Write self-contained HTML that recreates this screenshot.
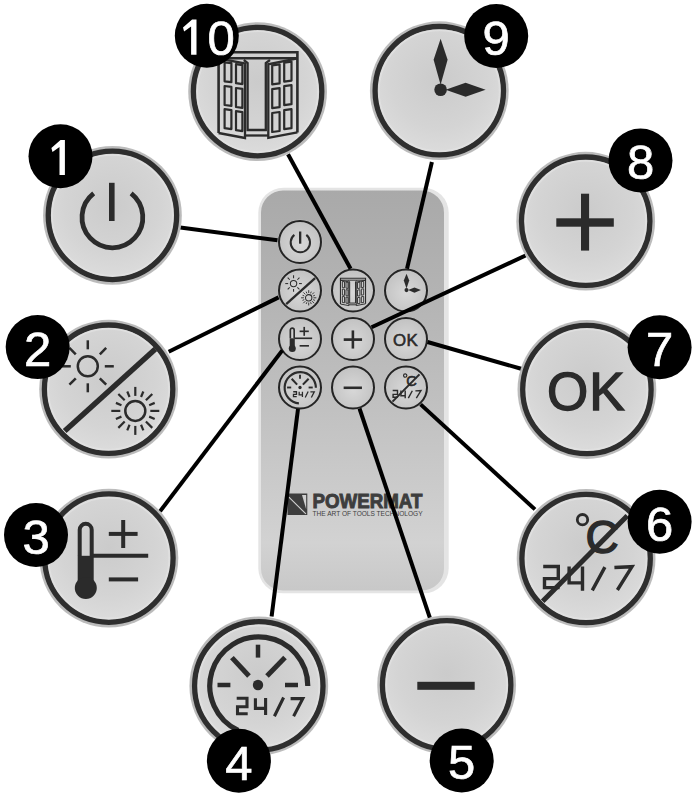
<!DOCTYPE html><html><head><meta charset="utf-8"><style>html,body{margin:0;padding:0;background:#fff;}svg{display:block;font-family:"Liberation Sans",sans-serif;}</style></head><body><svg width="695" height="800" viewBox="0 0 695 800"><defs>
<radialGradient id="halo"><stop offset="0.9" stop-color="#b2b2b2"/><stop offset="1" stop-color="#bdbdbd"/></radialGradient>
<radialGradient id="face" cx="0.5" cy="0.42" r="0.62"><stop offset="0" stop-color="#cbcbcb"/><stop offset="0.6" stop-color="#d4d4d4"/><stop offset="0.92" stop-color="#dcdcdc"/><stop offset="1" stop-color="#cfcfcf"/></radialGradient>
<radialGradient id="sface" cx="0.5" cy="0.55" r="0.5"><stop offset="0" stop-color="#d8d8d8"/><stop offset="1" stop-color="#c4c4c4"/></radialGradient>
<linearGradient id="remote" x1="0" y1="0" x2="0" y2="1"><stop offset="0" stop-color="#a9a9a9"/><stop offset="0.25" stop-color="#b3b3b3"/><stop offset="0.55" stop-color="#c1c1c1"/><stop offset="0.7" stop-color="#c9c9c9"/><stop offset="0.88" stop-color="#d2d2d2"/><stop offset="1" stop-color="#c8c8c8"/></linearGradient>
</defs><rect width="695" height="800" fill="#fff"/><rect x="258.3" y="187.8" width="190.4" height="405.5" rx="25" fill="#e4e4e4"/><rect x="261" y="190.5" width="183" height="400" rx="22" fill="url(#remote)"/><g><path d="M287.5,493.5 L307.3,493.5 L307.3,515 L287.5,515 Z" fill="#3d3d3d"/><path d="M302,495 L306.2,495 L306.2,509.3 Z" fill="#d0d0d0"/><path d="M288.9,497.2 L305.9,513.9" stroke="#d0d0d0" stroke-width="1.1"/><text x="312.4" y="508.3" font-family="Liberation Sans" font-weight="bold" font-size="19.5" fill="#3d3d3d" stroke="#3d3d3d" stroke-width="0.9" textLength="110" lengthAdjust="spacingAndGlyphs">POWERMAT</text><text x="312.6" y="515.6" font-family="Liberation Sans" font-size="6.6" fill="#404040" textLength="110" lengthAdjust="spacingAndGlyphs">THE ART OF TOOLS TECHNOLOGY</text></g><g transform="translate(300,242)"><circle r="22.5" fill="#bdbdbd"/><circle r="21" fill="url(#sface)" stroke="#242424" stroke-width="2"/><g transform="scale(0.3188)"><path d="M-17.62,-22.26 A30.4,30.4 0 1 0 19.82,-22.26" fill="none" stroke="#2b2b2b" stroke-width="6.24"/><line x1="0.5" y1="-32.9" x2="0.5" y2="5.3" stroke="#2b2b2b" stroke-width="7.28"/></g></g><g transform="translate(300,290.5)"><circle r="22.5" fill="#bdbdbd"/><circle r="21" fill="url(#sface)" stroke="#242424" stroke-width="2"/><g transform="scale(0.3188)"><line x1="47.4" y1="-39" x2="-43.3" y2="43" stroke="#2b2b2b" stroke-width="7.15"/><circle cx="-20.2" cy="-21.7" r="10" fill="none" stroke="#2b2b2b" stroke-width="3.25"/><line x1="-3.20" y1="-21.70" x2="5.80" y2="-21.70" stroke="#2b2b2b" stroke-width="3.25"/><line x1="-8.18" y1="-9.68" x2="-1.82" y2="-3.32" stroke="#2b2b2b" stroke-width="3.25"/><line x1="-20.20" y1="-4.70" x2="-20.20" y2="4.30" stroke="#2b2b2b" stroke-width="3.25"/><line x1="-32.22" y1="-9.68" x2="-38.58" y2="-3.32" stroke="#2b2b2b" stroke-width="3.25"/><line x1="-37.20" y1="-21.70" x2="-46.20" y2="-21.70" stroke="#2b2b2b" stroke-width="3.25"/><line x1="-32.22" y1="-33.72" x2="-38.58" y2="-40.08" stroke="#2b2b2b" stroke-width="3.25"/><line x1="-20.20" y1="-38.70" x2="-20.20" y2="-47.70" stroke="#2b2b2b" stroke-width="3.25"/><line x1="-8.18" y1="-33.72" x2="-1.82" y2="-40.08" stroke="#2b2b2b" stroke-width="3.25"/><circle cx="27.3" cy="22.9" r="10" fill="none" stroke="#2b2b2b" stroke-width="3.25"/><line x1="42.30" y1="22.90" x2="51.30" y2="22.90" stroke="#2b2b2b" stroke-width="2.86"/><line x1="41.16" y1="28.64" x2="46.70" y2="30.94" stroke="#2b2b2b" stroke-width="2.86"/><line x1="37.91" y1="33.51" x2="44.27" y2="39.87" stroke="#2b2b2b" stroke-width="2.86"/><line x1="33.04" y1="36.76" x2="35.34" y2="42.30" stroke="#2b2b2b" stroke-width="2.86"/><line x1="27.30" y1="37.90" x2="27.30" y2="46.90" stroke="#2b2b2b" stroke-width="2.86"/><line x1="21.56" y1="36.76" x2="19.26" y2="42.30" stroke="#2b2b2b" stroke-width="2.86"/><line x1="16.69" y1="33.51" x2="10.33" y2="39.87" stroke="#2b2b2b" stroke-width="2.86"/><line x1="13.44" y1="28.64" x2="7.90" y2="30.94" stroke="#2b2b2b" stroke-width="2.86"/><line x1="12.30" y1="22.90" x2="3.30" y2="22.90" stroke="#2b2b2b" stroke-width="2.86"/><line x1="13.44" y1="17.16" x2="7.90" y2="14.86" stroke="#2b2b2b" stroke-width="2.86"/><line x1="16.69" y1="12.29" x2="10.33" y2="5.93" stroke="#2b2b2b" stroke-width="2.86"/><line x1="21.56" y1="9.04" x2="19.26" y2="3.50" stroke="#2b2b2b" stroke-width="2.86"/><line x1="27.30" y1="7.90" x2="27.30" y2="-1.10" stroke="#2b2b2b" stroke-width="2.86"/><line x1="33.04" y1="9.04" x2="35.34" y2="3.50" stroke="#2b2b2b" stroke-width="2.86"/><line x1="37.91" y1="12.29" x2="44.27" y2="5.93" stroke="#2b2b2b" stroke-width="2.86"/><line x1="41.16" y1="17.16" x2="46.70" y2="14.86" stroke="#2b2b2b" stroke-width="2.86"/></g></g><g transform="translate(353,290.5)"><circle r="22.5" fill="#bdbdbd"/><circle r="21" fill="url(#sface)" stroke="#242424" stroke-width="2"/><g transform="scale(0.3188)"><path d="M-39.4,42.4 L-39.4,-38.4 L39.4,-38.4 L39.4,41.9" fill="none" stroke="#2b2b2b" stroke-width="3.38"/><path d="M-39.0,-32.4 L39.0,-32.4" fill="none" stroke="#2b2b2b" stroke-width="3.12"/><path d="M-39.4,-32.2 L-13.0,-27.1 L-13.0,47.4 L-39.4,42.4" fill="none" stroke="#2b2b2b" stroke-width="2.99" stroke-linejoin="miter"/><path d="M39.4,-32.2 L10.3,-26.3 L10.3,47.3 L39.4,41.7" fill="none" stroke="#2b2b2b" stroke-width="2.99" stroke-linejoin="miter"/><path d="M-14.2,-30.6 L-10.4,-27.6 L-10.4,39.4 L7.8,39.4 L7.8,-27.6 L12.0,-30.6" fill="none" stroke="#2b2b2b" stroke-width="2.99" stroke-linejoin="miter"/><path d="M-13.0,44.9 L10.3,44.9" fill="none" stroke="#2b2b2b" stroke-width="2.99" stroke-linejoin="miter"/><path d="M-33.4,-28.3 L-26.6,-27.4 L-26.6,-8.4 L-33.4,-9.3 Z" fill="none" stroke="#2b2b2b" stroke-width="2.86" stroke-linejoin="round"/><path d="M-33.4,-4.6 L-26.6,-3.7 L-26.6,15.3 L-33.4,14.4 Z" fill="none" stroke="#2b2b2b" stroke-width="2.86" stroke-linejoin="round"/><path d="M-33.4,18.6 L-26.6,19.5 L-26.6,38.5 L-33.4,37.6 Z" fill="none" stroke="#2b2b2b" stroke-width="2.86" stroke-linejoin="round"/><path d="M-22.0,-26.4 L-15.6,-25.5 L-15.6,-6.5 L-22.0,-7.4 Z" fill="none" stroke="#2b2b2b" stroke-width="2.86" stroke-linejoin="round"/><path d="M-22.0,-2.6 L-15.6,-1.7 L-15.6,17.3 L-22.0,16.4 Z" fill="none" stroke="#2b2b2b" stroke-width="2.86" stroke-linejoin="round"/><path d="M-22.0,20.6 L-15.6,21.5 L-15.6,40.5 L-22.0,39.6 Z" fill="none" stroke="#2b2b2b" stroke-width="2.86" stroke-linejoin="round"/><path d="M14.2,-25.2 L21.6,-26.2 L21.6,-7.2 L14.2,-6.2 Z" fill="none" stroke="#2b2b2b" stroke-width="2.86" stroke-linejoin="round"/><path d="M14.2,-1.4 L21.6,-2.4 L21.6,16.6 L14.2,17.6 Z" fill="none" stroke="#2b2b2b" stroke-width="2.86" stroke-linejoin="round"/><path d="M14.2,22.4 L21.6,21.4 L21.6,40.4 L14.2,41.4 Z" fill="none" stroke="#2b2b2b" stroke-width="2.86" stroke-linejoin="round"/><path d="M26.2,-28.0 L33.5,-29.0 L33.5,-10.0 L26.2,-9.0 Z" fill="none" stroke="#2b2b2b" stroke-width="2.86" stroke-linejoin="round"/><path d="M26.2,-4.4 L33.5,-5.4 L33.5,13.6 L26.2,14.6 Z" fill="none" stroke="#2b2b2b" stroke-width="2.86" stroke-linejoin="round"/><path d="M26.2,19.6 L33.5,18.6 L33.5,37.6 L26.2,38.6 Z" fill="none" stroke="#2b2b2b" stroke-width="2.86" stroke-linejoin="round"/></g></g><g transform="translate(406,290.5)"><circle r="22.5" fill="#bdbdbd"/><circle r="21" fill="url(#sface)" stroke="#242424" stroke-width="2"/><g transform="scale(0.3188)"><g transform="translate(1.6,-1.2)"><circle cx="0" cy="0" r="6.3" fill="#2b2b2b"/><path d="M0,-51 L8.5,-30 L0,-5 L-8.5,-30 Z" fill="#2b2b2b"/><path d="M45,0 L25,8.5 L5,0 L25,-8.5 Z" fill="#2b2b2b"/></g></g></g><g transform="translate(300,339)"><circle r="22.5" fill="#bdbdbd"/><circle r="21" fill="url(#sface)" stroke="#242424" stroke-width="2"/><g transform="scale(0.3188)"><path d="M-30.3,-2 L-30.3,-28.2 A6,6 0 0 1 -18.3,-28.2 L-18.3,-2" fill="none" stroke="#2b2b2b" stroke-width="5.20"/><rect x="-32.3" y="-2.2" width="16" height="30" fill="#2b2b2b"/><circle cx="-24.2" cy="30" r="11" fill="#2b2b2b"/><line x1="-18" y1="-2.2" x2="38.2" y2="-2.2" stroke="#2b2b2b" stroke-width="5.20"/><line x1="-1.2" y1="-24.1" x2="27.6" y2="-24.1" stroke="#2b2b2b" stroke-width="5.20"/><line x1="13.2" y1="-38" x2="13.2" y2="-10" stroke="#2b2b2b" stroke-width="5.20"/><line x1="-1.2" y1="21.4" x2="28.1" y2="21.4" stroke="#2b2b2b" stroke-width="5.20"/></g></g><g transform="translate(353,339)"><circle r="22.5" fill="#bdbdbd"/><circle r="21" fill="url(#sface)" stroke="#242424" stroke-width="2"/><g transform="scale(0.3188)"><rect x="-29.1" y="-2.3" width="57.5" height="8.4" fill="#2b2b2b"/><rect x="-4.4" y="-26.9" width="8.1" height="56.9" fill="#2b2b2b"/></g></g><g transform="translate(406,339)"><circle r="22.5" fill="#bdbdbd"/><circle r="21" fill="url(#sface)" stroke="#242424" stroke-width="2"/><g transform="scale(0.3188)"><text x="-1.75" y="21.2" text-anchor="middle" font-family="Liberation Sans" font-size="53" letter-spacing="1" fill="#2b2b2b" stroke="#2b2b2b" stroke-width="1.82">OK</text></g></g><g transform="translate(300,387.5)"><circle r="22.5" fill="#bdbdbd"/><circle r="21" fill="url(#sface)" stroke="#242424" stroke-width="2"/><g transform="scale(0.3188)"><path d="M49.8,0.9 A49,49 0 1 0 -3.47,49.71" fill="none" stroke="#2b2b2b" stroke-width="6.76"/><circle cx="0" cy="0" r="5.2" fill="#2b2b2b"/><line x1="0" y1="-40.3" x2="0" y2="-27.4" stroke="#2b2b2b" stroke-width="5.85"/><line x1="-40.5" y1="0" x2="-27.6" y2="0" stroke="#2b2b2b" stroke-width="5.85"/><line x1="27" y1="0" x2="40" y2="0" stroke="#2b2b2b" stroke-width="5.85"/><line x1="-26.1" y1="-27.4" x2="-9" y2="-9" stroke="#2b2b2b" stroke-width="6.50"/><line x1="27" y1="-27.4" x2="9" y2="-9" stroke="#2b2b2b" stroke-width="6.50"/><path d="M-21.3,13.3 L-11,13.3 L-11,21.7 L-20.5,21.7 L-20.5,28.8 L-10.3,28.8 M-2.6,13.3 L-2.6,23.4 L8.8,23.4 M7.6,13 L7.6,30 M25.6,12.5 L16.4,31.2 M32.6,13.6 L44.8,13.6 L35.6,31.2" fill="none" stroke="#2b2b2b" stroke-width="4.03"/></g></g><g transform="translate(353,387.5)"><circle r="22.5" fill="#bdbdbd"/><circle r="21" fill="url(#sface)" stroke="#242424" stroke-width="2"/><g transform="scale(0.3188)"><rect x="-29.35" y="-3.1" width="57.4" height="8" fill="#2b2b2b"/></g></g><g transform="translate(406,387.5)"><circle r="22.5" fill="#bdbdbd"/><circle r="21" fill="url(#sface)" stroke="#242424" stroke-width="2"/><g transform="scale(0.3188)"><circle cx="-2.5" cy="-37.3" r="5.2" fill="none" stroke="#2b2b2b" stroke-width="3.64"/><text x="0.5" y="-4.2" font-family="Liberation Sans" font-size="46" fill="#2b2b2b" stroke="#2b2b2b" stroke-width="1.82">C</text><path d="M-41.8,9.5 L-26.7,9.5 L-26.7,21.6 L-40.5,21.6 L-40.5,30.6 L-25.4,30.6 M-15.9,9.5 L-15.9,25.9 L-2.5,25.9 M-2.5,9.5 L-2.5,33.7 M19.9,10.1 L7.3,33.4 M29.4,10.5 L47,9.7 L32.4,33" fill="none" stroke="#2b2b2b" stroke-width="4.42"/><line x1="42.3" y1="-41.2" x2="-42.3" y2="44.3" stroke="#2b2b2b" stroke-width="6.50"/></g></g><line x1="180.2" y1="227.6" x2="277.5" y2="240.2" stroke="#000" stroke-width="4"/><line x1="168.7" y1="351.8" x2="278.6" y2="297.4" stroke="#000" stroke-width="4"/><line x1="160" y1="511.4" x2="282.3" y2="350.4" stroke="#000" stroke-width="4"/><line x1="271.6" y1="616.6" x2="298" y2="409" stroke="#000" stroke-width="4"/><line x1="429.9" y1="617.8" x2="359.5" y2="408.5" stroke="#000" stroke-width="4"/><line x1="535" y1="509.4" x2="420.6" y2="404.4" stroke="#000" stroke-width="4"/><line x1="522" y1="369" x2="427.5" y2="342" stroke="#000" stroke-width="4"/><line x1="525.6" y1="255.5" x2="371.6" y2="327.2" stroke="#000" stroke-width="4"/><line x1="431.9" y1="162" x2="407" y2="268.8" stroke="#000" stroke-width="4"/><line x1="288" y1="154.2" x2="350.6" y2="268.8" stroke="#000" stroke-width="4"/><g transform="translate(112.45,215.35)"><circle r="69.4" fill="url(#halo)"/><circle r="64.2" fill="url(#face)" stroke="#2e2e2e" stroke-width="5.3"/><circle r="60.3" fill="none" stroke="#e2e2e2" stroke-width="1.6" opacity="0.7"/></g><g transform="translate(111.3,215.7)"><path d="M-17.62,-22.26 A30.4,30.4 0 1 0 19.82,-22.26" fill="none" stroke="#2b2b2b" stroke-width="4.8"/><line x1="0.5" y1="-32.9" x2="0.5" y2="5.3" stroke="#2b2b2b" stroke-width="5.6"/></g><g transform="translate(108.6,389.2)"><circle r="69.4" fill="url(#halo)"/><circle r="64.2" fill="url(#face)" stroke="#2e2e2e" stroke-width="5.3"/><circle r="60.3" fill="none" stroke="#e2e2e2" stroke-width="1.6" opacity="0.7"/></g><g transform="translate(108,388)"><line x1="47.4" y1="-39" x2="-43.3" y2="43" stroke="#2b2b2b" stroke-width="5.5"/><circle cx="-20.2" cy="-21.7" r="10" fill="none" stroke="#2b2b2b" stroke-width="2.5"/><line x1="-3.20" y1="-21.70" x2="5.80" y2="-21.70" stroke="#2b2b2b" stroke-width="2.5"/><line x1="-8.18" y1="-9.68" x2="-1.82" y2="-3.32" stroke="#2b2b2b" stroke-width="2.5"/><line x1="-20.20" y1="-4.70" x2="-20.20" y2="4.30" stroke="#2b2b2b" stroke-width="2.5"/><line x1="-32.22" y1="-9.68" x2="-38.58" y2="-3.32" stroke="#2b2b2b" stroke-width="2.5"/><line x1="-37.20" y1="-21.70" x2="-46.20" y2="-21.70" stroke="#2b2b2b" stroke-width="2.5"/><line x1="-32.22" y1="-33.72" x2="-38.58" y2="-40.08" stroke="#2b2b2b" stroke-width="2.5"/><line x1="-20.20" y1="-38.70" x2="-20.20" y2="-47.70" stroke="#2b2b2b" stroke-width="2.5"/><line x1="-8.18" y1="-33.72" x2="-1.82" y2="-40.08" stroke="#2b2b2b" stroke-width="2.5"/><circle cx="27.3" cy="22.9" r="10" fill="none" stroke="#2b2b2b" stroke-width="2.5"/><line x1="42.30" y1="22.90" x2="51.30" y2="22.90" stroke="#2b2b2b" stroke-width="2.2"/><line x1="41.16" y1="28.64" x2="46.70" y2="30.94" stroke="#2b2b2b" stroke-width="2.2"/><line x1="37.91" y1="33.51" x2="44.27" y2="39.87" stroke="#2b2b2b" stroke-width="2.2"/><line x1="33.04" y1="36.76" x2="35.34" y2="42.30" stroke="#2b2b2b" stroke-width="2.2"/><line x1="27.30" y1="37.90" x2="27.30" y2="46.90" stroke="#2b2b2b" stroke-width="2.2"/><line x1="21.56" y1="36.76" x2="19.26" y2="42.30" stroke="#2b2b2b" stroke-width="2.2"/><line x1="16.69" y1="33.51" x2="10.33" y2="39.87" stroke="#2b2b2b" stroke-width="2.2"/><line x1="13.44" y1="28.64" x2="7.90" y2="30.94" stroke="#2b2b2b" stroke-width="2.2"/><line x1="12.30" y1="22.90" x2="3.30" y2="22.90" stroke="#2b2b2b" stroke-width="2.2"/><line x1="13.44" y1="17.16" x2="7.90" y2="14.86" stroke="#2b2b2b" stroke-width="2.2"/><line x1="16.69" y1="12.29" x2="10.33" y2="5.93" stroke="#2b2b2b" stroke-width="2.2"/><line x1="21.56" y1="9.04" x2="19.26" y2="3.50" stroke="#2b2b2b" stroke-width="2.2"/><line x1="27.30" y1="7.90" x2="27.30" y2="-1.10" stroke="#2b2b2b" stroke-width="2.2"/><line x1="33.04" y1="9.04" x2="35.34" y2="3.50" stroke="#2b2b2b" stroke-width="2.2"/><line x1="37.91" y1="12.29" x2="44.27" y2="5.93" stroke="#2b2b2b" stroke-width="2.2"/><line x1="41.16" y1="17.16" x2="46.70" y2="14.86" stroke="#2b2b2b" stroke-width="2.2"/></g><g transform="translate(108.9,558.1)"><circle r="69.4" fill="url(#halo)"/><circle r="64.2" fill="url(#face)" stroke="#2e2e2e" stroke-width="5.3"/><circle r="60.3" fill="none" stroke="#e2e2e2" stroke-width="1.6" opacity="0.7"/></g><g transform="translate(110,558)"><path d="M-30.3,-2 L-30.3,-28.2 A6,6 0 0 1 -18.3,-28.2 L-18.3,-2" fill="none" stroke="#2b2b2b" stroke-width="4"/><rect x="-32.3" y="-2.2" width="16" height="30" fill="#2b2b2b"/><circle cx="-24.2" cy="30" r="11" fill="#2b2b2b"/><line x1="-18" y1="-2.2" x2="38.2" y2="-2.2" stroke="#2b2b2b" stroke-width="4"/><line x1="-1.2" y1="-24.1" x2="27.6" y2="-24.1" stroke="#2b2b2b" stroke-width="4"/><line x1="13.2" y1="-38" x2="13.2" y2="-10" stroke="#2b2b2b" stroke-width="4"/><line x1="-1.2" y1="21.4" x2="28.1" y2="21.4" stroke="#2b2b2b" stroke-width="4"/></g><g transform="translate(258.8,685.9)"><circle r="69.4" fill="url(#halo)"/><circle r="64.2" fill="url(#face)" stroke="#2e2e2e" stroke-width="5.3"/><circle r="60.3" fill="none" stroke="#e2e2e2" stroke-width="1.6" opacity="0.7"/></g><g transform="translate(258,685)"><path d="M49.8,0.9 A49,49 0 1 0 -19.91,45.31" fill="none" stroke="#2b2b2b" stroke-width="5.2"/><circle cx="0" cy="0" r="5.2" fill="#2b2b2b"/><line x1="0" y1="-40.3" x2="0" y2="-27.4" stroke="#2b2b2b" stroke-width="4.5"/><line x1="-40.5" y1="0" x2="-27.6" y2="0" stroke="#2b2b2b" stroke-width="4.5"/><line x1="27" y1="0" x2="40" y2="0" stroke="#2b2b2b" stroke-width="4.5"/><line x1="-26.1" y1="-27.4" x2="-9" y2="-9" stroke="#2b2b2b" stroke-width="5"/><line x1="27" y1="-27.4" x2="9" y2="-9" stroke="#2b2b2b" stroke-width="5"/><path d="M-21.3,13.3 L-11,13.3 L-11,21.7 L-20.5,21.7 L-20.5,28.8 L-10.3,28.8 M-2.6,13.3 L-2.6,23.4 L8.8,23.4 M7.6,13 L7.6,30 M25.6,12.5 L16.4,31.2 M32.6,13.6 L44.8,13.6 L35.6,31.2" fill="none" stroke="#2b2b2b" stroke-width="3.1"/></g><g transform="translate(446.65,684.9)"><circle r="69.4" fill="url(#halo)"/><circle r="64.2" fill="url(#face)" stroke="#2e2e2e" stroke-width="5.3"/><circle r="60.3" fill="none" stroke="#e2e2e2" stroke-width="1.6" opacity="0.7"/></g><g transform="translate(446.65,684.9)"><rect x="-29.35" y="-3.1" width="57.4" height="8" fill="#2b2b2b"/></g><g transform="translate(586.1,558.5)"><circle r="69.4" fill="url(#halo)"/><circle r="64.2" fill="url(#face)" stroke="#2e2e2e" stroke-width="5.3"/><circle r="60.3" fill="none" stroke="#e2e2e2" stroke-width="1.6" opacity="0.7"/></g><g transform="translate(585,557)"><circle cx="-2.5" cy="-37.3" r="5.2" fill="none" stroke="#2b2b2b" stroke-width="2.8"/><text x="0.5" y="-4.2" font-family="Liberation Sans" font-size="46" fill="#2b2b2b" stroke="#2b2b2b" stroke-width="1.4">C</text><path d="M-41.8,9.5 L-26.7,9.5 L-26.7,21.6 L-40.5,21.6 L-40.5,30.6 L-25.4,30.6 M-15.9,9.5 L-15.9,25.9 L-2.5,25.9 M-2.5,9.5 L-2.5,33.7 M19.9,10.1 L7.3,33.4 M29.4,10.5 L47,9.7 L32.4,33" fill="none" stroke="#2b2b2b" stroke-width="3.4"/><line x1="42.3" y1="-41.2" x2="-42.3" y2="44.3" stroke="#2b2b2b" stroke-width="5"/></g><g transform="translate(586.9,389.5)"><circle r="69.4" fill="url(#halo)"/><circle r="64.2" fill="url(#face)" stroke="#2e2e2e" stroke-width="5.3"/><circle r="60.3" fill="none" stroke="#e2e2e2" stroke-width="1.6" opacity="0.7"/></g><g transform="translate(588,388.6)"><text x="-1.75" y="21.2" text-anchor="middle" font-family="Liberation Sans" font-size="53" letter-spacing="1" fill="#2b2b2b" stroke="#2b2b2b" stroke-width="1.4">OK</text></g><g transform="translate(585.7,221.2)"><circle r="69.4" fill="url(#halo)"/><circle r="64.2" fill="url(#face)" stroke="#2e2e2e" stroke-width="5.3"/><circle r="60.3" fill="none" stroke="#e2e2e2" stroke-width="1.6" opacity="0.7"/></g><g transform="translate(585.4,220.6)"><rect x="-29.1" y="-2.3" width="57.5" height="8.4" fill="#2b2b2b"/><rect x="-4.4" y="-26.9" width="8.1" height="56.9" fill="#2b2b2b"/></g><g transform="translate(439.3,90.7)"><circle r="69.4" fill="url(#halo)"/><circle r="64.2" fill="url(#face)" stroke="#2e2e2e" stroke-width="5.3"/><circle r="60.3" fill="none" stroke="#e2e2e2" stroke-width="1.6" opacity="0.7"/></g><g transform="translate(439,91)"><g transform="translate(1.6,-1.2)"><circle cx="0" cy="0" r="6.3" fill="#2b2b2b"/><path d="M0,-51 L7,-30 L0,-5 L-7,-30 Z" fill="#2b2b2b"/><path d="M45,0 L25,7 L5,0 L25,-7 Z" fill="#2b2b2b"/></g></g><g transform="translate(257.6,91.6)"><circle r="69.4" fill="url(#halo)"/><circle r="64.2" fill="url(#face)" stroke="#2e2e2e" stroke-width="5.3"/><circle r="60.3" fill="none" stroke="#e2e2e2" stroke-width="1.6" opacity="0.7"/></g><g transform="translate(258,90.6)"><path d="M-39.4,42.4 L-39.4,-38.4 L39.4,-38.4 L39.4,41.9" fill="none" stroke="#2b2b2b" stroke-width="2.6"/><path d="M-39.0,-32.4 L39.0,-32.4" fill="none" stroke="#2b2b2b" stroke-width="2.4"/><path d="M-39.4,-32.2 L-13.0,-27.1 L-13.0,47.4 L-39.4,42.4" fill="none" stroke="#2b2b2b" stroke-width="2.3" stroke-linejoin="miter"/><path d="M39.4,-32.2 L10.3,-26.3 L10.3,47.3 L39.4,41.7" fill="none" stroke="#2b2b2b" stroke-width="2.3" stroke-linejoin="miter"/><path d="M-14.2,-30.6 L-10.4,-27.6 L-10.4,39.4 L7.8,39.4 L7.8,-27.6 L12.0,-30.6" fill="none" stroke="#2b2b2b" stroke-width="2.3" stroke-linejoin="miter"/><path d="M-13.0,44.9 L10.3,44.9" fill="none" stroke="#2b2b2b" stroke-width="2.3" stroke-linejoin="miter"/><path d="M-33.4,-28.3 L-26.6,-27.4 L-26.6,-8.4 L-33.4,-9.3 Z" fill="none" stroke="#2b2b2b" stroke-width="2.2" stroke-linejoin="round"/><path d="M-33.4,-4.6 L-26.6,-3.7 L-26.6,15.3 L-33.4,14.4 Z" fill="none" stroke="#2b2b2b" stroke-width="2.2" stroke-linejoin="round"/><path d="M-33.4,18.6 L-26.6,19.5 L-26.6,38.5 L-33.4,37.6 Z" fill="none" stroke="#2b2b2b" stroke-width="2.2" stroke-linejoin="round"/><path d="M-22.0,-26.4 L-15.6,-25.5 L-15.6,-6.5 L-22.0,-7.4 Z" fill="none" stroke="#2b2b2b" stroke-width="2.2" stroke-linejoin="round"/><path d="M-22.0,-2.6 L-15.6,-1.7 L-15.6,17.3 L-22.0,16.4 Z" fill="none" stroke="#2b2b2b" stroke-width="2.2" stroke-linejoin="round"/><path d="M-22.0,20.6 L-15.6,21.5 L-15.6,40.5 L-22.0,39.6 Z" fill="none" stroke="#2b2b2b" stroke-width="2.2" stroke-linejoin="round"/><path d="M14.2,-25.2 L21.6,-26.2 L21.6,-7.2 L14.2,-6.2 Z" fill="none" stroke="#2b2b2b" stroke-width="2.2" stroke-linejoin="round"/><path d="M14.2,-1.4 L21.6,-2.4 L21.6,16.6 L14.2,17.6 Z" fill="none" stroke="#2b2b2b" stroke-width="2.2" stroke-linejoin="round"/><path d="M14.2,22.4 L21.6,21.4 L21.6,40.4 L14.2,41.4 Z" fill="none" stroke="#2b2b2b" stroke-width="2.2" stroke-linejoin="round"/><path d="M26.2,-28.0 L33.5,-29.0 L33.5,-10.0 L26.2,-9.0 Z" fill="none" stroke="#2b2b2b" stroke-width="2.2" stroke-linejoin="round"/><path d="M26.2,-4.4 L33.5,-5.4 L33.5,13.6 L26.2,14.6 Z" fill="none" stroke="#2b2b2b" stroke-width="2.2" stroke-linejoin="round"/><path d="M26.2,19.6 L33.5,18.6 L33.5,37.6 L26.2,38.6 Z" fill="none" stroke="#2b2b2b" stroke-width="2.2" stroke-linejoin="round"/></g><g transform="translate(60.5,156.3)"><circle r="32" fill="#000"/><path d="M4.4,-16.2 L4.4,18.8 L-1.0,18.8 L-1.0,-9.399999999999999 L-8.0,-4.399999999999999 L-9.1,-8.399999999999999 L0.0,-16.2 Z" fill="#fff"/></g><g transform="translate(37.7,347.1)"><circle r="32" fill="#000"/><text x="0" y="18.8" text-anchor="middle" font-family="Liberation Sans" font-size="49" fill="#fff" stroke="#fff" stroke-width="0.7">2</text></g><g transform="translate(36,535)"><circle r="32" fill="#000"/><text x="0" y="18.8" text-anchor="middle" font-family="Liberation Sans" font-size="49" fill="#fff" stroke="#fff" stroke-width="0.7">3</text></g><g transform="translate(238.9,760.8)"><circle r="32" fill="#000"/><text x="0" y="18.8" text-anchor="middle" font-family="Liberation Sans" font-size="49" fill="#fff" stroke="#fff" stroke-width="0.7">4</text></g><g transform="translate(461.7,760.5)"><circle r="32" fill="#000"/><text x="0" y="18.8" text-anchor="middle" font-family="Liberation Sans" font-size="49" fill="#fff" stroke="#fff" stroke-width="0.7">5</text></g><g transform="translate(659.6,521.7)"><circle r="32" fill="#000"/><text x="0" y="18.8" text-anchor="middle" font-family="Liberation Sans" font-size="49" fill="#fff" stroke="#fff" stroke-width="0.7">6</text></g><g transform="translate(659.6,347.3)"><circle r="32" fill="#000"/><text x="0" y="18.8" text-anchor="middle" font-family="Liberation Sans" font-size="49" fill="#fff" stroke="#fff" stroke-width="0.7">7</text></g><g transform="translate(640.5,160.5)"><circle r="32" fill="#000"/><text x="0" y="18.8" text-anchor="middle" font-family="Liberation Sans" font-size="49" fill="#fff" stroke="#fff" stroke-width="0.7">8</text></g><g transform="translate(496.2,36)"><circle r="32" fill="#000"/><text x="0" y="18.8" text-anchor="middle" font-family="Liberation Sans" font-size="49" fill="#fff" stroke="#fff" stroke-width="0.7">9</text></g><g transform="translate(206.8,35.7)"><circle r="32" fill="#000"/><path d="M-10.3,-16.1 L-10.3,19 L-15.700000000000001,19 L-15.700000000000001,-9.3 L-22.700000000000003,-4.300000000000001 L-23.8,-8.3 L-14.700000000000001,-16.1 Z" fill="#fff"/><text x="0.6" y="19" font-family="Liberation Sans" font-size="49" fill="#fff" stroke="#fff" stroke-width="0.7">0</text></g></svg></body></html>
